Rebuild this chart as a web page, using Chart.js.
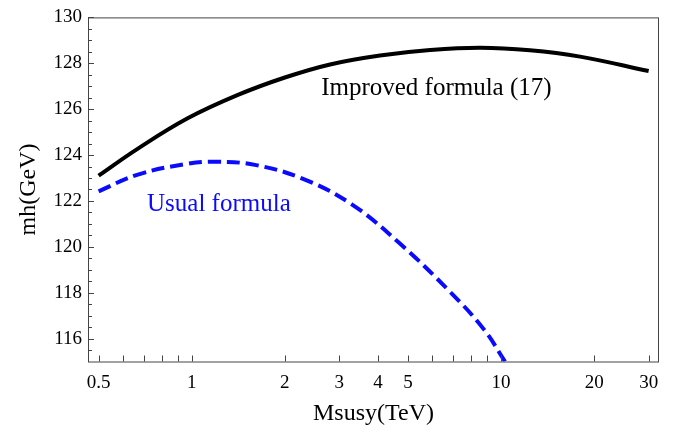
<!DOCTYPE html>
<html>
<head>
<meta charset="utf-8">
<script src="https://cdn.jsdelivr.net/npm/chart.js@4.4.0/dist/chart.umd.min.js"></script>
<style>
  body { margin: 0; background: #fff; }
  canvas { display: block; }
</style>
</head>
<body>
<canvas id="mhChart" width="688" height="434"></canvas>
<script>
// Improved formula (17) - black solid curve
const improvedX = [0.5, 0.67, 0.97, 1.41, 2, 2.8, 4.06, 5.9, 8.55, 12.4, 18, 30];
const improvedY = [123.1, 124.28, 125.6, 126.62, 127.38, 127.95, 128.34, 128.58, 128.68, 128.57, 128.29, 127.66];

// Usual formula - blue dashed curve
const usualX = [0.5, 0.67, 0.97, 1.19, 1.6, 2.3, 3.3, 4.7, 6.85, 8.8, 10.3];
const usualY = [122.42, 123.15, 123.62, 123.71, 123.57, 122.95, 121.84, 120.15, 118.03, 116.4, 115.0];

// axis ticks
const xTickValues = [0.5, 1, 2, 3, 4, 5, 10, 20, 30];
const xMinorTicks = [0.6, 0.7, 0.8, 0.9, 6, 7, 8, 9];
const yTickValues = [116, 118, 120, 122, 124, 126, 128, 130];
const yMinorTicks = [115.5, 116.5, 117, 117.5, 118.5, 119, 119.5, 120.5, 121, 121.5, 122.5, 123, 123.5,
                     124.5, 125, 125.5, 126.5, 127, 127.5, 128.5, 129, 129.5];

// curve labels (data coordinates)
const labelTexts = ['Improved formula (17)', 'Usual formula'];
const labelX = [2.62, 0.717];
const labelY = [126.6, 121.56];
const labelColors = ['#000000', '#0a0aff'];

const serif = "'Liberation Serif', 'Times New Roman', serif";

function toPoints(xs, ys) {
    return xs.map((x, i) => ({ x: x, y: ys[i] }));
}

// frame, inward ticks and curve labels
const framePlugin = {
    id: 'frame',
    afterDatasetsDraw(chart) {
        const ctx = chart.ctx;
        const area = chart.chartArea;
        const xs = chart.scales.x;
        const ys = chart.scales.y;
        ctx.save();
        ctx.strokeStyle = '#444';
        ctx.lineWidth = 1;
        ctx.strokeRect(area.left + 0.5, area.top + 0.5, area.right - area.left - 1, area.bottom - area.top);

        ctx.beginPath();
        xTickValues.concat(xMinorTicks).forEach(v => {
            const px = Math.round(xs.getPixelForValue(v)) + 0.5;
            ctx.moveTo(px, area.bottom);
            ctx.lineTo(px, area.bottom - 6);
        });
        yTickValues.forEach(v => {
            const py = Math.round(ys.getPixelForValue(v)) + 0.5;
            ctx.moveTo(area.left, py);
            ctx.lineTo(area.left + 6, py);
        });
        yMinorTicks.forEach(v => {
            const py = Math.round(ys.getPixelForValue(v)) + 0.5;
            ctx.moveTo(area.left, py);
            ctx.lineTo(area.left + 4, py);
        });
        ctx.stroke();

        ctx.font = '25px ' + serif;
        ctx.textAlign = 'left';
        ctx.textBaseline = 'alphabetic';
        labelTexts.forEach((t, i) => {
            ctx.fillStyle = labelColors[i];
            ctx.fillText(t, xs.getPixelForValue(labelX[i]), ys.getPixelForValue(labelY[i]));
        });
        ctx.restore();
    }
};

const ctx = document.getElementById('mhChart').getContext('2d');
const mhChart = new Chart(ctx, {
    type: 'line',
    data: {
        datasets: [{
            label: 'Improved formula (17)',
            data: toPoints(improvedX, improvedY),
            borderColor: '#000000',
            borderWidth: 4,
            pointRadius: 0,
            tension: 0.4,
            fill: false
        }, {
            label: 'Usual formula',
            data: toPoints(usualX, usualY),
            borderColor: '#0a0aff',
            borderWidth: 4,
            borderDash: [13, 6],
            pointRadius: 0,
            tension: 0.4,
            fill: false
        }]
    },
    options: {
        responsive: false,
        animation: false,
        devicePixelRatio: 1,
        layout: { padding: { top: 8, right: 29, left: 0, bottom: 0 } },
        plugins: {
            legend: { display: false },
            tooltip: { enabled: false }
        },
        scales: {
            x: {
                type: 'logarithmic',
                min: 0.462,
                max: 32.4,
                grid: { display: false, drawTicks: false },
                border: { display: false },
                afterBuildTicks: s => { s.ticks = xTickValues.map(v => ({ value: v })); },
                afterFit: s => { s.height = 72.5; },
                ticks: {
                    color: '#000',
                    padding: 10,
                    maxRotation: 0,
                    autoSkip: false,
                    font: { family: serif, size: 19 },
                    callback: v => String(v)
                },
                title: {
                    display: true,
                    text: 'Msusy(TeV)',
                    color: '#000',
                    font: { family: serif, size: 24 },
                    padding: { top: 0, bottom: 6 }
                }
            },
            y: {
                min: 115,
                max: 130,
                grid: { display: false, drawTicks: false },
                border: { display: false },
                afterBuildTicks: s => { s.ticks = yTickValues.map(v => ({ value: v })); },
                afterFit: s => { s.width = 88; },
                ticks: {
                    color: '#000',
                    padding: 6,
                    autoSkip: false,
                    font: { family: serif, size: 19 },
                    callback: v => String(v)
                },
                title: {
                    display: true,
                    text: 'mh(GeV)',
                    color: '#000',
                    font: { family: serif, size: 24 },
                    padding: { top: 14, bottom: 0 }
                }
            }
        }
    },
    plugins: [framePlugin]
});
</script>
</body>
</html>
